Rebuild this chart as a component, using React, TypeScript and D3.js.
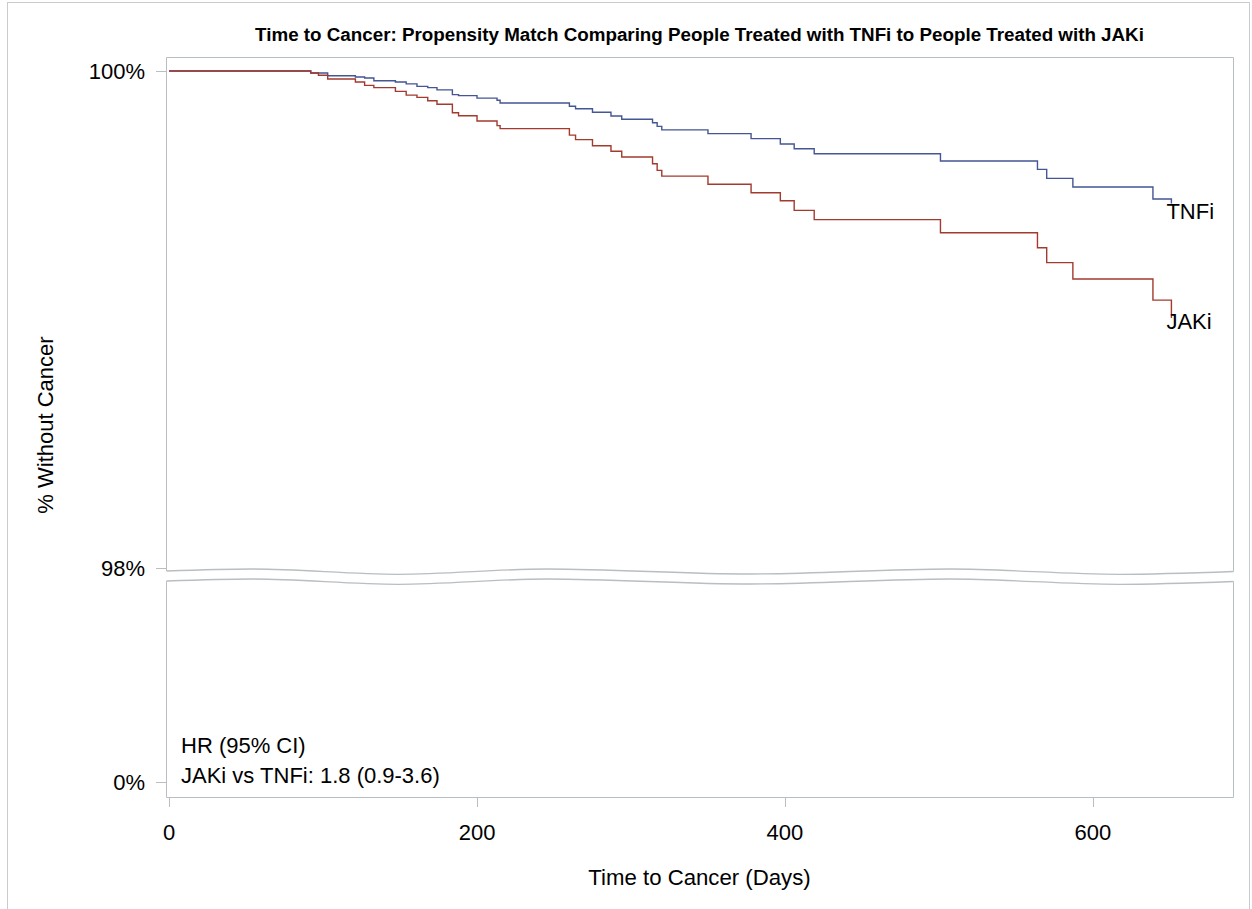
import React, { useEffect, useRef } from 'react';
import * as d3 from 'd3';

// Kaplan-Meier step data (day of step, % without cancer after it)
const tnfiDays = [0, 92, 103, 121, 127, 133, 147, 154, 161, 168, 174, 184, 188, 200, 213, 215, 260, 264, 275, 287, 294, 314, 317, 320, 350, 378, 397, 406, 419, 501, 564, 570, 587, 639, 651];
const tnfiSurvival = [100, 99.992, 99.981, 99.976, 99.972, 99.961, 99.956, 99.948, 99.938, 99.933, 99.924, 99.905, 99.901, 99.891, 99.882, 99.871, 99.858, 99.848, 99.834, 99.819, 99.806, 99.792, 99.777, 99.763, 99.748, 99.728, 99.706, 99.687, 99.667, 99.638, 99.604, 99.568, 99.533, 99.485, 99.467];

const jakiDays = [0, 92, 97, 103, 121, 127, 133, 147, 154, 161, 168, 174, 184, 188, 200, 213, 215, 260, 264, 275, 287, 294, 314, 317, 320, 350, 378, 397, 406, 419, 501, 564, 570, 587, 639, 651];
const jakiSurvival = [100, 99.992, 99.983, 99.968, 99.956, 99.942, 99.933, 99.918, 99.903, 99.894, 99.880, 99.866, 99.832, 99.820, 99.799, 99.780, 99.768, 99.742, 99.724, 99.699, 99.677, 99.654, 99.627, 99.600, 99.577, 99.544, 99.510, 99.478, 99.439, 99.402, 99.349, 99.289, 99.229, 99.163, 99.078, 99.006];

const xTicks = [0, 200, 400, 600];
const upperTicks = [98, 100];
const lowerTicks = [0];

const title = 'Time to Cancer: Propensity Match Comparing People Treated with TNFi to People Treated with JAKi';
const hrLines = ['HR (95% CI)', 'JAKi vs TNFi: 1.8 (0.9-3.6)'];

// shape of the axis-break wave: [fraction of width, vertical offset]
const breakWave: [number, number][] = [[0, -0.5], [0.08, -2.5], [0.217, 2.8], [0.357, -2.5], [0.547, 2.5], [0.734, -2.5], [0.893, 2.8], [1, 0]];

const FONT = '"Liberation Sans", Arial, Helvetica, sans-serif';
const FRAME = '#B8BEC2';
const BLUE = '#445694';
const RED = '#A23A2E';

const App = () => {
  const d3Container = useRef<HTMLDivElement>(null);

  const width = 1252;
  const height = 909;
  const left = 166;
  const right = 1233;
  const top = 57;
  const upperBottom = 571.5;
  const lowerTop = 581.5;
  const bottom = 797;

  useEffect(() => {
    if (!d3Container.current) return;
    d3Container.current.innerHTML = '';

    const x = d3.scaleLinear().domain([-2, 691]).range([left, right]);
    const yUp = d3.scaleLinear().domain([98, 100]).range([568, 71]);
    const yLow = d3.scaleLinear().domain([0, 1]).range([782, 582]);

    const svg = d3.select(d3Container.current)
      .append('svg')
      .attr('width', width)
      .attr('height', height)
      .style('position', 'absolute')
      .style('left', '0px')
      .style('top', '0px')
      .style('font-family', FONT);

    svg.append('rect')
      .attr('x', 0).attr('y', 0).attr('width', width).attr('height', height)
      .attr('fill', '#fff');

    // outer border of the graph
    svg.append('rect')
      .attr('x', 7.5).attr('y', 2.5).attr('width', 1242).attr('height', 912)
      .attr('fill', 'none').attr('stroke', '#C8CCCF');

    // wavy break lines
    const wave = (base: number) => breakWave.map(([f, o]) => [left + 0.5 + f * (right - left), base + o] as [number, number]);
    const waveLine = d3.line().curve(d3.curveMonotoneX);

    const upperWave = wave(upperBottom);
    const lowerWave = wave(lowerTop);

    // upper panel frame
    svg.append('path')
      .attr('d', `M${left + 0.5},${upperWave[0][1]} L${left + 0.5},${top + 0.5} L${right + 0.5},${top + 0.5} L${right + 0.5},${upperWave[upperWave.length - 1][1]}`)
      .attr('fill', 'none').attr('stroke', FRAME);
    svg.append('path').attr('d', waveLine(upperWave))
      .attr('fill', 'none').attr('stroke', FRAME).attr('stroke-width', 1.3);

    // lower panel frame
    svg.append('path')
      .attr('d', `M${left + 0.5},${lowerWave[0][1]} L${left + 0.5},${bottom + 0.5} L${right + 0.5},${bottom + 0.5} L${right + 0.5},${lowerWave[lowerWave.length - 1][1]}`)
      .attr('fill', 'none').attr('stroke', FRAME);
    svg.append('path').attr('d', waveLine(lowerWave))
      .attr('fill', 'none').attr('stroke', FRAME).attr('stroke-width', 1.3);

    // y ticks
    const yTickData = [
      ...upperTicks.map(v => ({ y: yUp(v), label: `${v}%` })),
      ...lowerTicks.map(v => ({ y: yLow(v), label: `${v}%` }))
    ];
    const yt = svg.append('g').selectAll('g').data(yTickData).enter().append('g');
    yt.append('line')
      .attr('x1', left - 10).attr('x2', left)
      .attr('y1', d => Math.round(d.y) + 0.5).attr('y2', d => Math.round(d.y) + 0.5)
      .attr('stroke', FRAME);
    yt.append('text')
      .attr('x', left - 21).attr('y', d => d.y).attr('dy', '0.36em')
      .attr('text-anchor', 'end').attr('font-size', 22).attr('fill', '#000')
      .text(d => d.label);

    // x ticks
    const xt = svg.append('g').selectAll('g').data(xTicks).enter().append('g');
    xt.append('line')
      .attr('x1', d => Math.round(x(d)) + 0.5).attr('x2', d => Math.round(x(d)) + 0.5)
      .attr('y1', bottom).attr('y2', bottom + 10)
      .attr('stroke', FRAME);
    xt.append('text')
      .attr('x', d => x(d)).attr('y', 840)
      .attr('text-anchor', 'middle').attr('font-size', 22).attr('fill', '#000')
      .text(d => d);

    // survival curves
    const step = d3.line<[number, number]>()
      .x(d => x(d[0]))
      .y(d => yUp(d[1]))
      .curve(d3.curveStepAfter);

    const series = [
      { name: 'TNFi', days: tnfiDays, surv: tnfiSurvival, color: BLUE, labelY: 219 },
      { name: 'JAKi', days: jakiDays, surv: jakiSurvival, color: RED, labelY: 329 }
    ];

    series.forEach(s => {
      const pts = s.days.map((d, i) => [d, s.surv[i]] as [number, number]);
      svg.append('path')
        .attr('d', step(pts))
        .attr('fill', 'none')
        .attr('stroke', s.color)
        .attr('stroke-width', 1.4);
      svg.append('text')
        .attr('x', x(s.days[s.days.length - 1]) - 5)
        .attr('y', s.labelY)
        .attr('font-size', 22).attr('fill', '#000')
        .text(s.name);
    });

    // hazard ratio annotation
    svg.append('g').selectAll('text').data(hrLines).enter().append('text')
      .attr('x', 181)
      .attr('y', (d, i) => 753 + i * 29.5)
      .attr('font-size', 22).attr('fill', '#000')
      .text(d => d);

    // title and axis labels
    svg.append('text')
      .attr('x', (left + right) / 2).attr('y', 41)
      .attr('text-anchor', 'middle').attr('font-size', 18.8).attr('font-weight', 'bold')
      .text(title);

    svg.append('text')
      .attr('x', (left + right) / 2).attr('y', 885)
      .attr('text-anchor', 'middle').attr('font-size', 22.2)
      .text('Time to Cancer (Days)');

    svg.append('text')
      .attr('transform', `translate(53, 425) rotate(-90)`)
      .attr('text-anchor', 'middle').attr('font-size', 22)
      .text('% Without Cancer');

    return () => {
      if (d3Container.current) {
        d3Container.current.innerHTML = '';
      }
    };
  }, []);

  return (
    <div ref={d3Container}></div>
  );
};

export default App;
